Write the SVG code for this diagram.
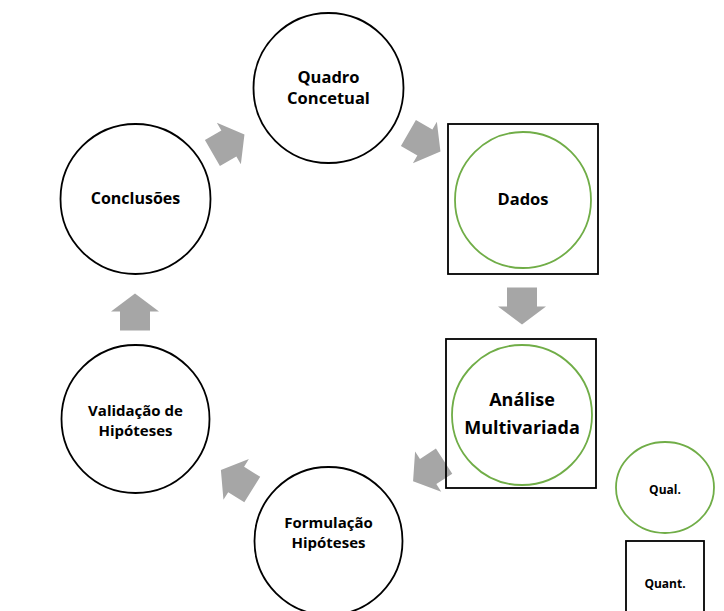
<svg xmlns="http://www.w3.org/2000/svg" width="724" height="611" viewBox="0 0 724 611">
<style>
.n{fill:#fff;stroke:#000;stroke-width:1.8}
.g{fill:#fff;stroke:#70ad47;stroke-width:1.8}
.b{fill:none;stroke:#000;stroke-width:1.8}
.t{font-family:"Open Sans","Liberation Sans",sans-serif;font-weight:bold;fill:#000;text-anchor:middle}
.a{fill:#a6a6a6}
</style>
<defs>
<path id="arr" d="M -18,-15 L 1,-15 L 1,-24 L 19,0 L 1,24 L 1,15 L -18,15 Z"/>
</defs>
<rect width="724" height="611" fill="#fff"/>
<g id="connectors">
<use href="#arr" class="a" transform="translate(228,144) rotate(-30)"/>
<use href="#arr" class="a" transform="translate(424,142) rotate(30)"/>
<use href="#arr" class="a" transform="translate(522,305.5) rotate(90)"/>
<use href="#arr" class="a" transform="translate(429,471) rotate(147)"/>
<use href="#arr" class="a" transform="translate(237,480) rotate(-148)"/>
<use href="#arr" class="a" transform="translate(135,312.5) rotate(-90)"/>
</g>
<g id="quadro">
<circle class="n" cx="328.5" cy="88" r="75"/>
<text class="t" font-size="16.5" x="328.5" y="83">Quadro</text>
<text class="t" font-size="16.5" x="328.5" y="104">Concetual</text>
</g>
<g id="dados">
<rect class="b" x="448" y="124" width="150" height="150"/>
<circle class="g" cx="523" cy="200" r="68"/>
<text class="t" font-size="16.5" x="523" y="205">Dados</text>
</g>
<g id="analise">
<rect class="b" x="446" y="339" width="150" height="149"/>
<circle class="g" cx="522" cy="415" r="70"/>
<text class="t" font-size="18" x="522" y="406">Análise</text>
<text class="t" font-size="18" x="522" y="434">Multivariada</text>
</g>
<g id="formulacao">
<circle class="n" cx="328.5" cy="541" r="74"/>
<text class="t" font-size="15" x="328.5" y="528">Formulação</text>
<text class="t" font-size="15" x="328.5" y="548">Hipóteses</text>
</g>
<g id="validacao">
<circle class="n" cx="135.5" cy="419" r="74"/>
<text class="t" font-size="15" x="135.5" y="416">Validação de</text>
<text class="t" font-size="15" x="135.5" y="436">Hipóteses</text>
</g>
<g id="conclusoes">
<circle class="n" cx="135.5" cy="199" r="75"/>
<text class="t" font-size="16" x="135.5" y="204">Conclusões</text>
</g>
<g id="legend-qual">
<ellipse class="g" cx="665" cy="487.5" rx="49" ry="45.5"/>
<text class="t" font-size="12" x="665" y="494">Qual.</text>
</g>
<g id="legend-quant">
<rect class="b" x="626" y="541" width="78" height="75"/>
<text class="t" font-size="12" x="665" y="588">Quant.</text>
</g>
</svg>
